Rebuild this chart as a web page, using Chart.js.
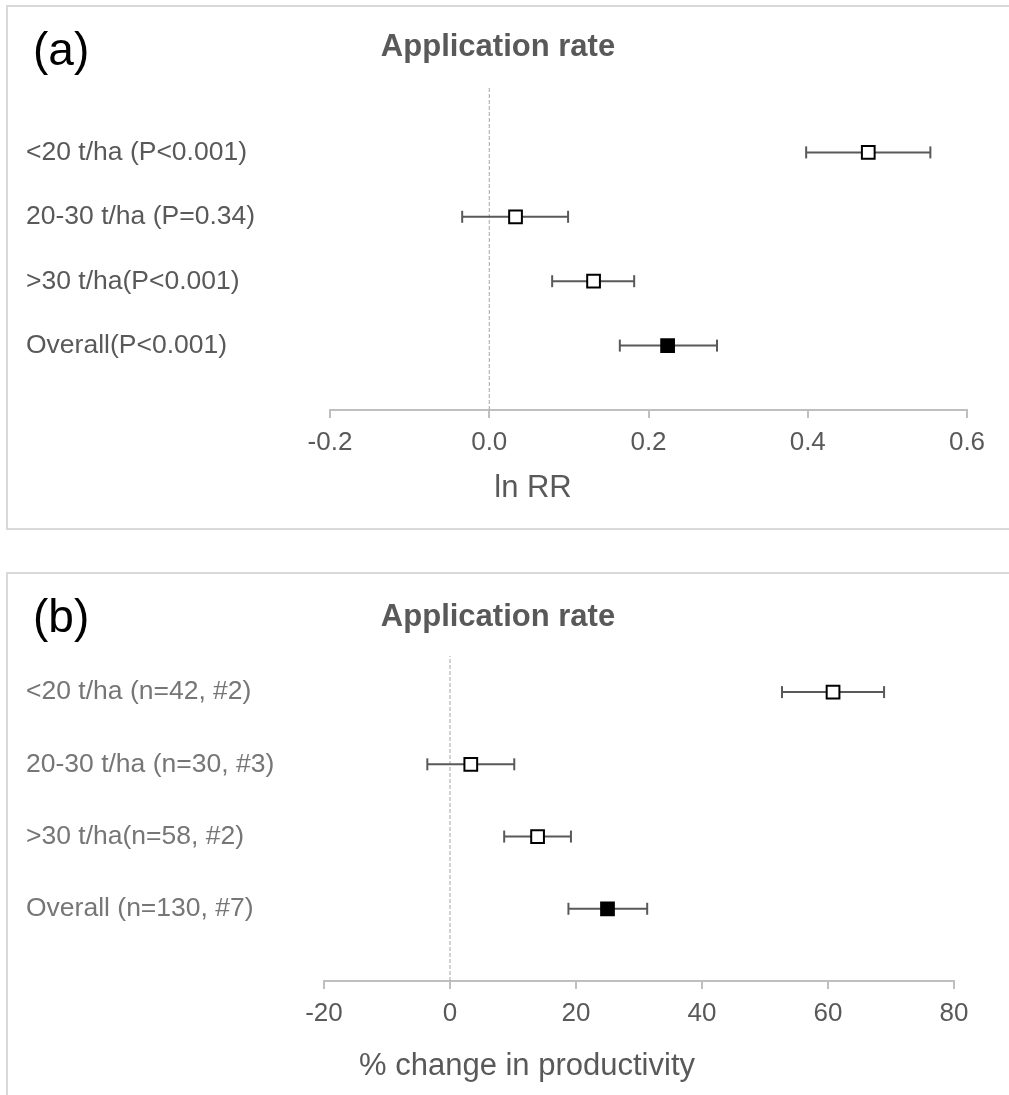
<!DOCTYPE html>
<html>
<head>
<meta charset="utf-8">
<script src="https://cdn.jsdelivr.net/npm/chart.js@4.4.1/dist/chart.umd.min.js"></script>
<style>
    html, body { margin: 0; padding: 0; background: #fff; overflow: hidden; }
    .panel { position: absolute; left: 6px; width: 1001px; height: 521px; border: 2px solid #d9d9d9; border-right: none; }
    #panelA { top: 5px; }
    #panelB { top: 572px; }
    canvas { display: block; }
</style>
</head>
<body>
<div class="panel" id="panelA"><canvas id="chartA" width="1001" height="521"></canvas></div>
<div class="panel" id="panelB"><canvas id="chartB" width="1001" height="521"></canvas></div>
<script>
// posição das linhas (de cima para baixo)
const rowPos = [4, 3, 2, 1];

// (a) ln RR
const labelsA = ['<20 t/ha (P<0.001)', '20-30 t/ha (P=0.34)', '>30 t/ha(P<0.001)', 'Overall(P<0.001)'];
const meanA = [0.476, 0.033, 0.131, 0.224];
const lowA = [0.398, -0.034, 0.079, 0.164];
const highA = [0.554, 0.099, 0.182, 0.286];
const ticksA = [-0.2, 0.0, 0.2, 0.4, 0.6];

// (b) % change in productivity
const labelsB = ['<20 t/ha (n=42, #2)', '20-30 t/ha (n=30, #3)', '>30 t/ha(n=58, #2)', 'Overall (n=130, #7)'];
const meanB = [60.8, 3.3, 13.9, 25.0];
const lowB = [52.7, -3.6, 8.6, 18.8];
const highB = [68.9, 10.2, 19.2, 31.3];
const ticksB = [-20, 0, 20, 40, 60, 80];

// quais marcadores são preenchidos (Overall)
const filled = [false, false, false, true];

const FONT = "'Liberation Sans', Arial, sans-serif";
const GREY = '#595959';

function textPlugin(letter, title, axisTitle, pos) {
    return {
        id: 'textos',
        afterDraw(chart) {
            const ctx = chart.ctx;
            ctx.save();
            ctx.textBaseline = 'alphabetic';
            ctx.fillStyle = '#000';
            ctx.textAlign = 'left';
            ctx.font = '46px ' + FONT;
            ctx.fillText(letter, pos.letterX, pos.letterY);
            ctx.fillStyle = GREY;
            ctx.textAlign = 'center';
            ctx.font = 'bold 31px ' + FONT;
            ctx.fillText(title, pos.titleX, pos.titleY);
            ctx.font = '31px ' + FONT;
            ctx.fillText(axisTitle, pos.axisX, pos.axisY);
            ctx.restore();
        }
    };
}

function makeChart(id, labels, mean, low, high, ticks, decimals, yMax, labelColor, lay, pos, letter, axisTitle) {
    const datasets = [];

    // marcadores
    datasets.push({
        type: 'scatter',
        data: mean.map((v, i) => ({ x: v, y: rowPos[i] })),
        pointStyle: 'rect',
        pointRadius: 9,
        pointBorderWidth: 2,
        pointBorderColor: '#000',
        pointBackgroundColor: filled.map(f => f ? '#000' : '#fff')
    });

    // barras de erro
    for (let i = 0; i < mean.length; i++) {
        datasets.push({
            type: 'line',
            data: [{ x: low[i], y: rowPos[i] }, { x: high[i], y: rowPos[i] }],
            borderColor: GREY,
            borderWidth: 2,
            pointStyle: 'line',
            rotation: 90,
            pointRadius: 6,
            pointBorderWidth: 2,
            pointBorderColor: GREY
        });
    }

    // linha de referência em zero
    datasets.push({
        type: 'line',
        data: [{ x: 0, y: 0 }, { x: 0, y: yMax }],
        borderColor: '#a6a6a6',
        borderWidth: 1,
        borderDash: [4, 2],
        pointRadius: 0
    });

    return new Chart(document.getElementById(id), {
        type: 'scatter',
        data: { datasets: datasets },
        options: {
            responsive: false,
            animation: false,
            devicePixelRatio: 1,
            layout: { padding: lay.padding },
            plugins: { legend: { display: false }, tooltip: { enabled: false } },
            scales: {
                x: {
                    type: 'linear',
                    min: ticks[0],
                    max: ticks[ticks.length - 1],
                    afterBuildTicks: s => { s.ticks = ticks.map(v => ({ value: v })); },
                    afterFit: s => { s.height = lay.xHeight; },
                    grid: { drawOnChartArea: false, drawTicks: true, tickLength: 8, color: '#bfbfbf', lineWidth: 2 },
                    border: { display: true, color: '#bfbfbf', width: 2 },
                    ticks: {
                        padding: 9,
                        color: GREY,
                        font: { family: FONT, size: 26 },
                        maxRotation: 0,
                        callback: v => v.toFixed(decimals)
                    }
                },
                y: {
                    type: 'linear',
                    min: 0,
                    max: yMax,
                    afterBuildTicks: s => { s.ticks = rowPos.map(v => ({ value: v })); },
                    afterFit: s => { s.width = lay.yWidth; },
                    grid: { display: false },
                    border: { display: false },
                    ticks: {
                        crossAlign: 'far',
                        color: labelColor,
                        font: { family: FONT, size: 26.5 },
                        callback: v => labels[rowPos.indexOf(v)]
                    }
                }
            }
        },
        plugins: [textPlugin(letter, 'Application rate', axisTitle, pos)]
    });
}

makeChart('chartA', labelsA, meanA, lowA, highA, ticksA, 1, 5, GREY,
    { padding: { left: 18, top: 81, right: 42, bottom: 0 }, yWidth: 304, xHeight: 118 },
    { letterX: 25, letterY: 58, titleX: 490, titleY: 49, axisX: 525, axisY: 490 },
    '(a)', 'ln RR');

makeChart('chartB', labelsB, meanB, lowB, highB, ticksB, 0, 4.5, '#767676',
    { padding: { left: 18, top: 82, right: 55, bottom: 0 }, yWidth: 298, xHeight: 114 },
    { letterX: 25, letterY: 58, titleX: 490, titleY: 52, axisX: 519, axisY: 501 },
    '(b)', '% change in productivity');
</script>
</body>
</html>
